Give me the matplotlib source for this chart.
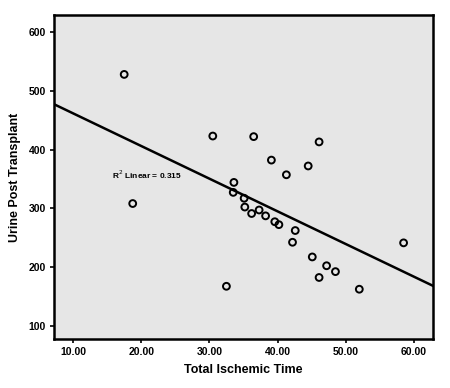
import numpy as np
import matplotlib
matplotlib.use('Agg')
import matplotlib.pyplot as plt

plt.rcParams['font.family'] = ['Liberation Sans', 'DejaVu Sans']

# données
ischemic_time = [17.5, 30.5, 36.5, 46.1, 39.1, 44.5, 41.3, 33.6,
                 18.75, 33.5, 35.1, 35.2, 36.2, 37.3, 38.25, 39.6, 40.2,
                 42.6, 42.2, 58.5, 45.1, 47.2, 48.5, 46.1, 32.5, 52.0]
urine_post = [528, 423, 422, 413, 382, 372, 357, 344,
              308, 327, 317, 302, 291, 297, 287, 277, 272,
              262, 242, 241, 217, 202, 192, 182, 167, 162]
x_ticks = [10, 20, 30, 40, 50, 60]
y_ticks = [100, 200, 300, 400, 500, 600]
r2_text = 'R$^2$ Linear = 0.315'

x = np.array(ischemic_time)
y = np.array(urine_post)

fig = plt.figure(figsize=(4.5, 3.88), dpi=100)
ax = fig.add_axes([0.12, 0.126, 0.842, 0.835])
ax.set_facecolor('#e6e6e6')

ax.scatter(x, y, s=24, facecolors='none', edgecolors='black', linewidths=1.4, zorder=3)

# droite de régression
slope, intercept = np.polyfit(x, y, 1)
xl = np.array([7.2, 62.8])
ax.plot(xl, slope * xl + intercept, color='black', lw=1.8, zorder=2)

ax.text(15.7, 357, r2_text, fontsize=6, fontweight='bold', ha='left', va='center')

ax.set_xlim(7.2, 62.8)
ax.set_ylim(77, 629)
ax.set_xticks(x_ticks)
ax.set_xticklabels(['%.2f' % v for v in x_ticks])
ax.set_yticks(y_ticks)
for lab in ax.get_xticklabels() + ax.get_yticklabels():
    lab.set_fontweight('bold')
    lab.set_fontsize(7.5)
ax.tick_params(direction='out', length=3, width=1.2, pad=3)
for sp in ax.spines.values():
    sp.set_linewidth(1.8)

ax.set_xlabel('Total Ischemic Time', fontsize=9, fontweight='bold', labelpad=5)
ax.set_ylabel('Urine Post Transplant', fontsize=9, fontweight='bold', labelpad=5)

fig.savefig('out.png', dpi=100)
